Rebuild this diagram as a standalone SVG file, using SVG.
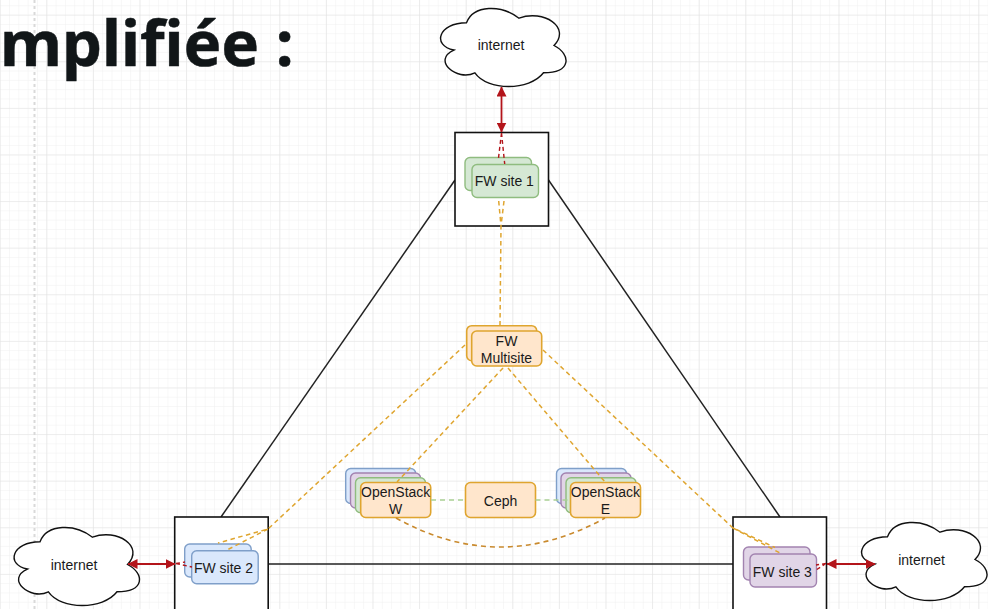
<svg xmlns="http://www.w3.org/2000/svg" width="988" height="609" viewBox="0 0 988 609">
<style>
.lbl{font-family:"Liberation Sans",Arial,sans-serif;font-size:14px;fill:#1a1a1a;text-anchor:middle}
.cl{fill:#fff;stroke:#111;stroke-width:1.4}
.site{fill:#fff;stroke:#111;stroke-width:1.6}
.blk{fill:none;stroke:#222;stroke-width:1.5}
.red{fill:none;stroke:#b3141a;stroke-width:1.8}
.redd{fill:none;stroke:#b3141a;stroke-width:1.4;stroke-dasharray:4 3}
.or{fill:none;stroke:#dfa52f;stroke-width:1.5;stroke-dasharray:4.5 3.5}
.ord{fill:none;stroke:#c98a2e;stroke-width:1.6;stroke-dasharray:5 4}
.gr{fill:none;stroke:#a9cf94;stroke-width:1.6;stroke-dasharray:5 4}
.g{fill:#d5e8d4;stroke:#8fbc7f;stroke-width:1.4}
.b{fill:#dae8fc;stroke:#7f9fc9;stroke-width:1.4}
.p{fill:#e1d5e7;stroke:#a283b0;stroke-width:1.4}
.o{fill:#ffe6cc;stroke:#dfa52f;stroke-width:1.6}
</style>
<defs>
<pattern id="minor" width="9.32" height="9.32" patternUnits="userSpaceOnUse" x="-0.3" y="5.3">
<path d="M0 0H9.32M0 0V9.32" fill="none" stroke="#f0f0f0" stroke-width="1"/>
</pattern>
<pattern id="major" width="46.6" height="46.6" patternUnits="userSpaceOnUse" x="-0.3" y="14.7">
<path d="M0 0H46.6M0 0V46.6" fill="none" stroke="#e3e3e3" stroke-width="1.2"/>
</pattern>
<path id="cloud" d="M35 22.75C7 22.75 0 45.5 22.4 50.05C0 60.06 25.2 81.9 43.4 72.8C56 91 98 91 112 72.8C140 72.8 140 54.6 122.5 45.5C140 27.3 112 9.1 87.5 18.2C70 4.55 42 4.55 35 22.75Z"/>
<marker id="ah" viewBox="0 0 10 10" refX="9.5" refY="5" markerWidth="10" markerHeight="10" markerUnits="userSpaceOnUse" orient="auto-start-reverse">
<path d="M0 0L10 5L0 10Z" fill="#b3141a"/>
</marker>
</defs>
<rect width="988" height="609" fill="#fff"/>
<rect width="988" height="609" fill="url(#minor)"/>
<rect width="988" height="609" fill="url(#major)"/>
<path d="M34.5 0V609" stroke="#d9d9d9" stroke-width="2" stroke-dasharray="3 3" fill="none"/>
<text x="0" y="66" font-family="'Noto Sans','Open Sans',sans-serif" font-weight="700" font-size="63.5" fill="#111618" stroke="#111618" stroke-width="0.5">mplifiée :</text>
<g id="links">
<path class="blk" d="M455 180L221 517"/>
<path class="blk" d="M548.5 180L780 517"/>
<path class="blk" d="M268 564H733"/>
</g>
<g id="site-1"><rect class="site" x="455" y="132.500" width="93.500" height="93.500"/></g>
<g id="site-2"><rect class="site" x="174.700" y="517" width="93.500" height="100"/></g>
<g id="site-3"><rect class="site" x="733" y="517" width="93.500" height="100"/></g>
<g id="cloud-1"><use href="#cloud" class="cl" transform="translate(431.500 0)"/><text class="lbl" x="501" y="50">internet</text></g>
<g id="cloud-2"><use href="#cloud" class="cl" transform="translate(5 519)"/><text class="lbl" x="74" y="570">internet</text></g>
<g id="cloud-3"><use href="#cloud" class="cl" transform="translate(852.500 514)"/><text class="lbl" x="921.500" y="565">internet</text></g>
<g id="fw-site-1"><rect class="g" x="465" y="157.500" width="66.500" height="33" rx="5"/><rect class="g" x="472" y="164.500" width="66.500" height="33" rx="5"/><text class="lbl" x="504.300" y="186">FW site 1</text></g>
<g id="fw-site-2"><rect class="b" x="184.700" y="544" width="66.500" height="33" rx="5"/><rect class="b" x="191.700" y="550.700" width="66.500" height="33" rx="5"/><text class="lbl" x="223.500" y="573">FW site 2</text></g>
<g id="fw-site-3"><rect class="p" x="743.500" y="547" width="66.500" height="33" rx="5"/><rect class="p" x="750" y="554" width="66.500" height="33" rx="5"/><text class="lbl" x="782.300" y="577">FW site 3</text></g>
<g id="fw-multisite"><rect class="o" x="466.700" y="325.700" width="70" height="35" rx="5"/><rect class="o" x="471.700" y="331" width="70" height="35" rx="5"/><text class="lbl" x="506.500" y="346">FW</text><text class="lbl" x="506.500" y="362.500">Multisite</text></g>
<g id="openstack-w"><rect class="b" x="345.700" y="468.500" width="70" height="35" rx="5"/><rect class="p" x="350.500" y="473" width="70" height="35" rx="5"/><rect class="g" x="355.500" y="477.800" width="70" height="35" rx="5"/><rect class="o" x="360.700" y="482.500" width="70" height="35" rx="5"/><text class="lbl" x="395.700" y="497">OpenStack</text><text class="lbl" x="395.700" y="514">W</text></g>
<g id="ceph"><rect class="o" x="465.500" y="482.500" width="70" height="35" rx="5"/><text class="lbl" x="500.500" y="505.500">Ceph</text></g>
<g id="openstack-e"><rect class="b" x="556.500" y="468.500" width="70" height="35" rx="5"/><rect class="p" x="561" y="473" width="70" height="35" rx="5"/><rect class="g" x="566" y="477.800" width="70" height="35" rx="5"/><rect class="o" x="570.500" y="482.500" width="70" height="35" rx="5"/><text class="lbl" x="605.500" y="497">OpenStack</text><text class="lbl" x="605.500" y="514">E</text></g>
<g id="connectors">
<path class="red" d="M501.500 87V132" marker-start="url(#ah)" marker-end="url(#ah)"/>
<path class="redd" d="M501.500 133L498.500 158M501.500 133L504.700 164"/>
<path class="red" d="M128 564H175" marker-start="url(#ah)" marker-end="url(#ah)"/>
<path class="redd" d="M176 563.500L185 562M176 563.500L192 567"/>
<path class="red" d="M827 564H875" marker-start="url(#ah)" marker-end="url(#ah)"/>
<path class="redd" d="M826 563.500L816 565M826 563.500L816 570"/>
<path class="or" d="M498.700 201L501 226L500 325M504 201L501 226"/>
<path class="or" d="M465 345L268 529L218 543M268 529L227 550"/>
<path class="or" d="M503 368L397 482"/>
<path class="or" d="M508 368L605 482"/>
<path class="or" d="M543 350L733 528L775 547.500M733 528L780 553"/>
<path class="ord" d="M396 518Q500 576 605 518"/>
<path class="gr" d="M431 500H465.500M535.500 500H570.500"/>
</g>
</svg>
